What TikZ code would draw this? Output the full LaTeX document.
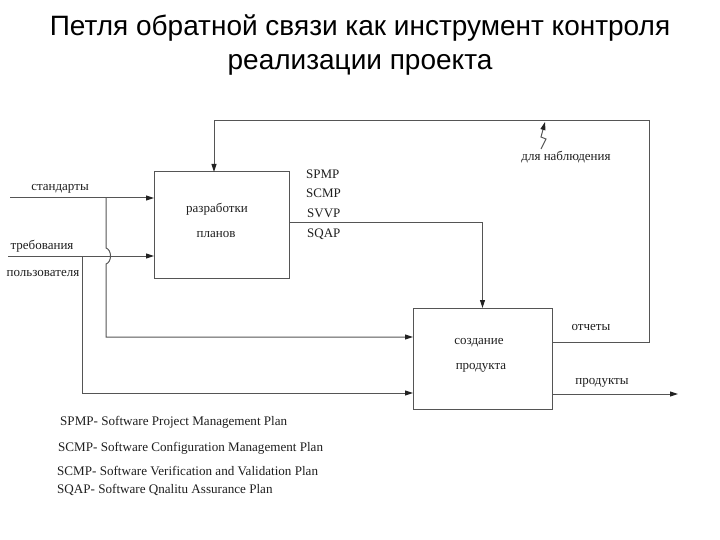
\documentclass[tikz,border=0pt]{standalone}
\usepackage{fontspec}
\setmainfont{Liberation Serif}
\newfontfamily\titlefont{Liberation Sans}
\usetikzlibrary{arrows.meta}
\definecolor{ln}{HTML}{555555}
\definecolor{tx}{HTML}{1E1E1E}
\definecolor{tip}{HTML}{222222}
\tikzset{
  box/.style={draw=ln, line width=1pt, minimum width=#1, inner sep=0pt, outer sep=0pt},
  arr/.style={draw=ln, line width=1pt, -{Triangle[length=8pt,width=5pt,color=tip]}},
  ln/.style={draw=ln, line width=1pt},
  lbl/.style={text=tx, font=\fontsize{13}{15}\selectfont, inner sep=0pt},
  lgd/.style={text=tx, font=\fontsize{13.1}{16}\selectfont, inner sep=0pt, anchor=west},
}
\begin{document}
\begin{tikzpicture}[x=1pt,y=-1pt]
\useasboundingbox (0,0) rectangle (720,540);
% title
\node[font=\titlefont\fontsize{28}{34}\selectfont, align=center, text=black] (title) at (360,45) {Петля обратной связи как инструмент контроля\\реализации проекта};
% boxes
\node[box=135pt, minimum height=106pt] (plan) at (221.5,225) {};
\node[box=139pt, minimum height=101pt] (prod) at (482.5,358.5) {};
\node[lbl] (planA) at (217,209) {разработки};
\node[lbl] (planB) at (216,235) {планов};
\node[lbl] (prodA) at (479,343) {создание};
\node[lbl] (prodB) at (481,368) {продукта};
% input coordinates
\coordinate (stdin) at (10,198);
\coordinate (reqin) at (8,256);
\coordinate (b1top) at (106,198);
\coordinate (b1a) at (106,248);
\coordinate (b1b) at (106,264);
\coordinate (b1bot) at (106,337);
\coordinate (b2top) at (82,256);
\coordinate (b2bot) at (82,393);
\coordinate (fbtr) at (649,121);
\coordinate (prodout) at (678,394);
% inputs
\draw[arr] (stdin) -- (stdin -| plan.west);
\draw[arr] (reqin) -- (reqin -| plan.west);
\node[lbl] (lstd) at (60,189) {стандарты};
\node[lbl] (lreq) at (42,246) {требования};
\node[lbl] (lusr) at (43,274) {пользователя};
% branches
\draw[arr] (b1top) -- (b1a) .. controls (112,250) and (112,262) .. (b1b) -- (b1bot) -- (b1bot -| prod.west);
\draw[arr] (b2top) -- (b2bot) -- (b2bot -| prod.west);
% plan -> prod
\draw[arr] ([yshift=2pt]plan.east) -| (prod.north);
\node[lbl, anchor=west] (l1) at (306,174) {SPMP};
\node[lbl, anchor=west] (l2) at (306,193) {SCMP};
\node[lbl, anchor=west] (l3) at (307,213) {SVVP};
\node[lbl, anchor=west] (l4) at (307,234) {SQAP};
% feedback
\draw[arr] ([yshift=16.5pt]prod.east) -| (fbtr) -| ([xshift=-7.5pt]plan.north);
\node[lbl] (lrep) at (591,327) {отчеты};
\draw[arr] (541,149) -- (546,139) -- (541,137) -- (545,122);
\node[lbl] (lobs) at (566,157) {для наблюдения};
% products
\draw[arr] ([yshift=-35.5pt]prod.east) -- (prodout);
\node[lbl] (lprod) at (602,383) {продукты};
% legend
\node[lgd] (g1) at (60,422) {SPMP- Software Project Management Plan};
\node[lgd] (g2) at (58,448) {SCMP- Software Configuration Management Plan};
\node[lgd] (g3) at (57,471) {SCMP- Software Verification and Validation Plan};
\node[lgd] (g4) at (57,490) {SQAP- Software Qnalitu Assurance Plan};
\end{tikzpicture}
\end{document}
